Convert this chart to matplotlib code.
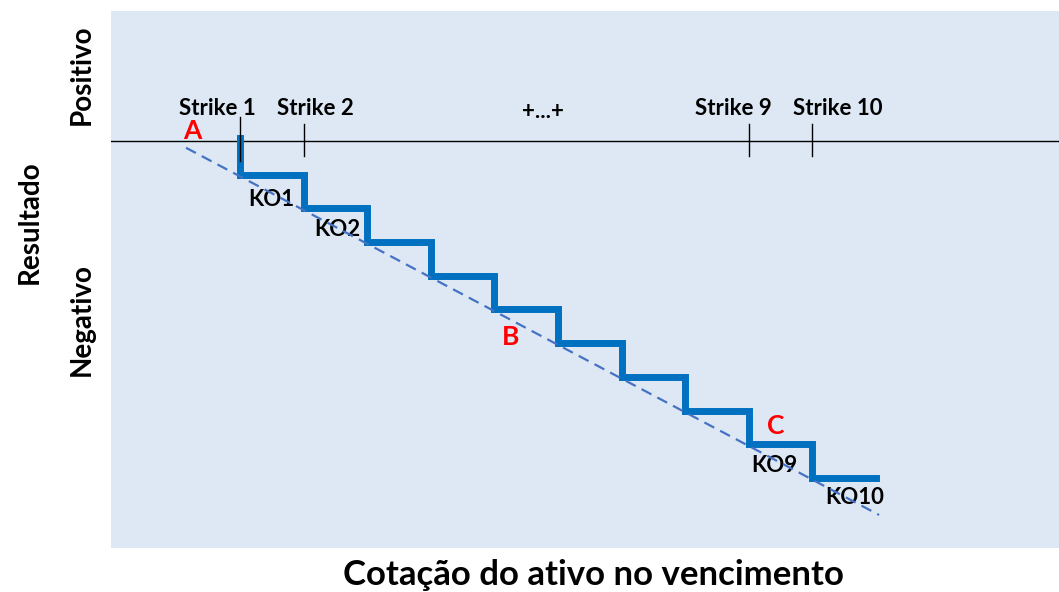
import matplotlib.pyplot as plt

# strike / knock-out levels
strikes = [1, 2, 3, 4, 5, 6, 7, 8, 9, 10]
ko_levels = [-1, -2, -3, -4, -5, -6, -7, -8, -9, -10]
step_end = 11.0

# dashed reference line (A -> C)
ref_x = [0.15, 11.05]
ref_y = [-0.2, -11.1]

tick_strikes = [1, 2, 9, 10]
strike_labels = ['Strike 1', 'Strike 2', 'Strike 9', 'Strike 10']
strike_label_x = [0.65, 2.18, 8.76, 10.4]
ko_names = ['KO1', 'KO2', 'KO9', 'KO10']
ko_label_pos = [(1.49, -1.75), (2.53, -2.62), (9.41, -9.62), (10.67, -10.57)]
points = ['A', 'B', 'C']
point_pos = [(0.25, 0.3), (5.26, -5.82), (9.43, -8.45)]

plt.rcParams['font.family'] = ['Lato', 'DejaVu Sans']

fig = plt.figure(figsize=(10.59, 5.92), dpi=100)
ax = fig.add_axes([111 / 1059, 44 / 592, 948 / 1059, 537 / 592])
ax.set_facecolor('#DEE8F4')
ax.set_xlim(-1.03, 13.88)
ax.set_ylim(-12.08, 3.86)
for s in ax.spines.values():
    s.set_visible(False)
ax.set_xticks([])
ax.set_yticks([])

ax.axhline(0, color='black', lw=1)

# staircase
sx = [strikes[0], strikes[0]]
sy = [0.1, ko_levels[0]]
for i in range(1, len(strikes)):
    sx += [strikes[i], strikes[i]]
    sy += [ko_levels[i - 1], ko_levels[i]]
sx.append(step_end)
sy.append(ko_levels[-1])
ax.plot(sx, sy, color='#0070C0', lw=5, solid_joinstyle='miter', zorder=3)

ax.plot(ref_x, ref_y, color='#4472C4', lw=1.6, dashes=(5, 3), zorder=4)

# strike ticks
for k in tick_strikes:
    top, bot = (0.7, -0.6) if k == 1 else (0.5, -0.45)
    ax.plot([k, k], [bot, top], color='black', lw=1, zorder=5)

for lbl, x in zip(strike_labels, strike_label_x):
    ax.text(x, 0.97, lbl, ha='center', va='center', fontsize=16, fontweight='bold')
ax.text(5.76, 0.88, '+...+', ha='center', va='center', fontsize=16, fontweight='bold')

for lbl, (x, y) in zip(ko_names, ko_label_pos):
    ax.text(x, y, lbl, ha='center', va='center', fontsize=16, fontweight='bold')

for lbl, (x, y) in zip(points, point_pos):
    ax.text(x, y, lbl, ha='center', va='center', fontsize=19, fontweight='bold', color='#FF0000')

fig.text(593 / 1059, 1 - 575 / 592, 'Cotação do ativo no vencimento', ha='center', va='center',
         fontsize=25, fontweight='bold')
fig.text(30 / 1059, 1 - 222 / 592, 'Resultado', ha='center', va='center', rotation=90,
         fontsize=20, fontweight='bold')
fig.text(82 / 1059, 1 - 75 / 592, 'Positivo', ha='center', va='center', rotation=90,
         fontsize=20, fontweight='bold')
fig.text(82 / 1059, 1 - 320 / 592, 'Negativo', ha='center', va='center', rotation=90,
         fontsize=20, fontweight='bold')

fig.savefig('out.png', dpi=100)
